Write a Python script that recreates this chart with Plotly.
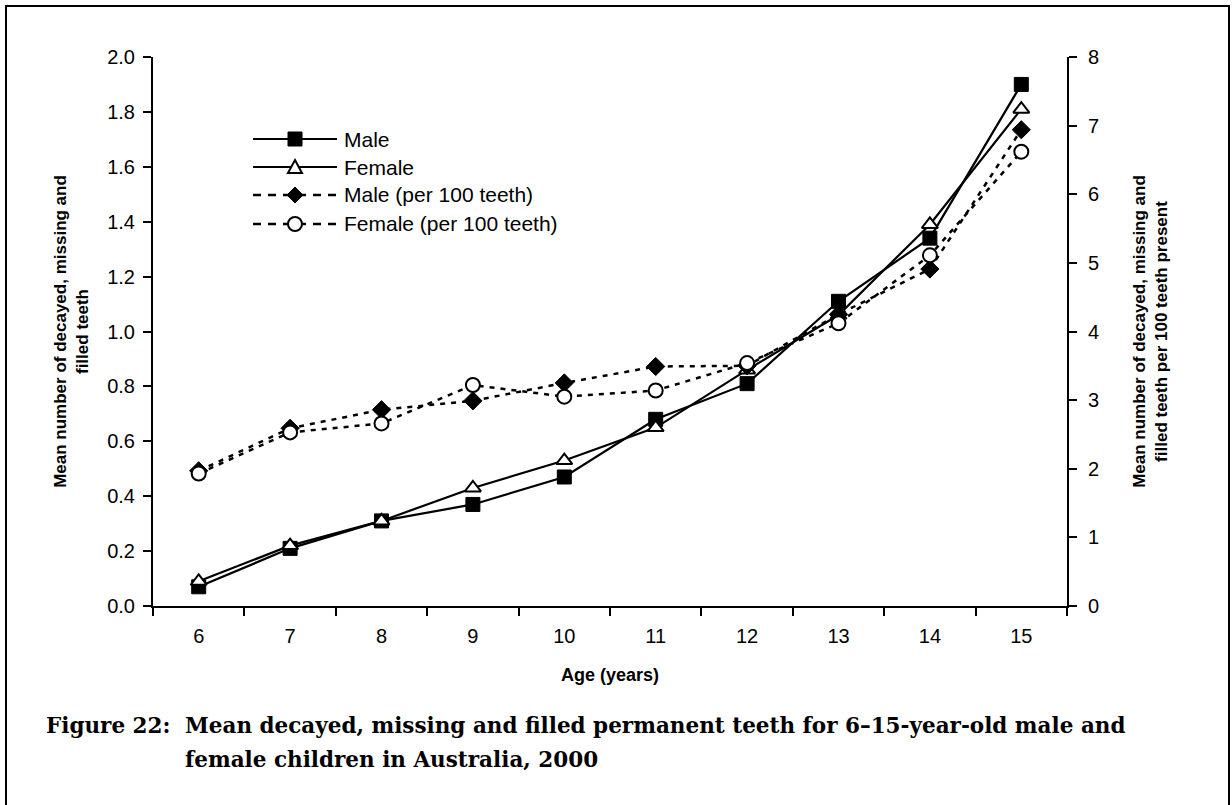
import plotly.graph_objects as go

ages = ["6", "7", "8", "9", "10", "11", "12", "13", "14", "15"]
male = [0.07, 0.21, 0.31, 0.37, 0.47, 0.68, 0.81, 1.11, 1.34, 1.90]
female = [0.09, 0.22, 0.31, 0.43, 0.53, 0.65, 0.86, 1.06, 1.39, 1.81]
male_per100 = [1.97, 2.59, 2.86, 2.99, 3.25, 3.49, 3.50, 4.25, 4.91, 6.94]
female_per100 = [1.93, 2.53, 2.66, 3.22, 3.05, 3.14, 3.54, 4.12, 5.11, 6.62]

series_names = ["Male", "Female", "Male (per 100 teeth)", "Female (per 100 teeth)"]

left_ticks = [0.0, 0.2, 0.4, 0.6, 0.8, 1.0, 1.2, 1.4, 1.6, 1.8, 2.0]
right_ticks = [0, 1, 2, 3, 4, 5, 6, 7, 8]

caption_label = "Figure 22:"
caption_line1 = "Mean decayed, missing and filled permanent teeth for 6–15-year-old male and"
caption_line2 = "female children in Australia, 2000"

FONT = "Liberation Sans, Arial, sans-serif"
W, H = 1232, 805
L, R, T, B = 153, 165, 57, 199
PW, PH = W - L - R, H - T - B


def px(x):
    return (x - L) / PW


def py(y):
    return (H - B - y) / PH


SOLID = dict(color="black", width=2.2)
DASHED = dict(color="black", width=2.5, dash="5px,6px")
styles = [
    dict(line=SOLID, symbol="square", fill="black"),
    dict(line=SOLID, symbol="triangle-up", fill="white"),
    dict(line=DASHED, symbol="diamond", fill="black"),
    dict(line=DASHED, symbol="circle", fill="white"),
]
values = [male, female, male_per100, female_per100]
axes = ["y", "y", "y2", "y2"]

fig = go.Figure()
for name, vals, ax, st in zip(series_names, values, axes, styles):
    fig.add_trace(go.Scatter(
        x=ages, y=vals, name=name, mode="lines+markers", yaxis=ax, showlegend=False,
        line=st["line"],
        marker=dict(symbol=st["symbol"], size=14, color=st["fill"],
                    line=dict(color="black", width=2 if st["fill"] == "white" else 1)),
    ))

TICKF = dict(size=20, family=FONT, color="black")
TITLEF = dict(size=17, family=FONT, color="black")

fig.update_layout(
    width=W, height=H,
    margin=dict(l=L, r=R, t=T, b=B),
    paper_bgcolor="white", plot_bgcolor="white",
    font=dict(family=FONT, size=20, color="black"),
    showlegend=False,
    xaxis=dict(
        type="category", tickson="boundaries", ticks="outside", ticklen=8, tickwidth=2,
        tickcolor="black", showline=True, linecolor="black", linewidth=2,
        showgrid=False, zeroline=False, range=[-0.5, 9.5],
        tickfont=TICKF, ticklabelstandoff=11,
        title=dict(text="<b>Age (years)</b>", font=dict(size=18, family=FONT), standoff=22),
    ),
    yaxis=dict(
        range=[0, 2.0], tickvals=left_ticks, tickformat=".1f",
        ticks="outside", ticklen=8, tickwidth=2, tickcolor="black",
        showline=True, linecolor="black", linewidth=2, showgrid=False, zeroline=False,
        tickfont=TICKF, ticklabelstandoff=4,
        title=dict(text="<b>Mean number of decayed, missing and<br>filled teeth</b>",
                   font=TITLEF, standoff=14),
    ),
    yaxis2=dict(
        overlaying="y", side="right", range=[0, 8], tickvals=right_ticks,
        ticks="outside", ticklen=8, tickwidth=2, tickcolor="black",
        showline=True, linecolor="black", linewidth=2, showgrid=False, zeroline=False,
        tickfont=TICKF, ticklabelstandoff=7,
        title=dict(text="<b>Mean number of decayed, missing and<br>filled teeth per 100 teeth present</b>",
                   font=TITLEF, standoff=35),
    ),
    yaxis3=dict(
        overlaying="y", side="right", range=[0, 8], tickvals=right_ticks,
        ticks="inside", ticklen=8, tickwidth=2, tickcolor="black",
        showticklabels=False, showline=False, showgrid=False, zeroline=False,
    ),
)

# Legend (drawn as decoration, Excel-style long keys)
LEG_X0, LEG_X1, LEG_MX, LEG_TX = 253, 337, 295, 342
LEG_ROWS = [139, 167, 195, 224]
LEG_DASH = dict(color="black", width=2.5, dash="8px,7px")
S = 7
for name, st, ry in zip(series_names, styles, LEG_ROWS):
    lline = st["line"] if st["line"] is SOLID else LEG_DASH
    fig.add_shape(type="line", xref="paper", yref="paper",
                  x0=px(LEG_X0), x1=px(LEG_X1), y0=py(ry), y1=py(ry), line=lline)
    lw = 2 if st["fill"] == "white" else 1
    mk = dict(xref="paper", yref="paper", fillcolor=st["fill"], line=dict(color="black", width=lw))
    if st["symbol"] == "square":
        fig.add_shape(type="rect", x0=px(LEG_MX - S), x1=px(LEG_MX + S), y0=py(ry + S), y1=py(ry - S), **mk)
    elif st["symbol"] == "circle":
        fig.add_shape(type="circle", x0=px(LEG_MX - S), x1=px(LEG_MX + S), y0=py(ry + S), y1=py(ry - S), **mk)
    else:
        if st["symbol"] == "diamond":
            pts = [(LEG_MX, ry - S - 1), (LEG_MX + S + 1, ry), (LEG_MX, ry + S + 1), (LEG_MX - S - 1, ry)]
        else:
            pts = [(LEG_MX, ry - S), (LEG_MX + S, ry + S - 1), (LEG_MX - S, ry + S - 1)]
        path = "M " + " L ".join(f"{px(a):.5f},{py(b):.5f}" for a, b in pts) + " Z"
        fig.add_shape(type="path", path=path, **mk)
    fig.add_annotation(xref="paper", yref="paper", x=px(LEG_TX), y=py(ry), xanchor="left",
                       yanchor="middle", text=name, showarrow=False,
                       font=dict(size=21, family=FONT, color="black"))

CAP_FONT = dict(family="DejaVu Serif, serif", size=21.5, color="black")
fig.add_annotation(xref="paper", yref="paper", x=px(172), y=py(725), xanchor="right", yanchor="middle",
                   text="<b>" + caption_label + "</b>", showarrow=False, font=CAP_FONT)
fig.add_annotation(xref="paper", yref="paper", x=px(183), y=py(725), xanchor="left", yanchor="middle",
                   text="<b>" + caption_line1 + "</b>", showarrow=False, font=CAP_FONT)
fig.add_annotation(xref="paper", yref="paper", x=px(183), y=py(759), xanchor="left", yanchor="middle",
                   text="<b>" + caption_line2 + "</b>", showarrow=False, font=CAP_FONT)

fig.add_shape(type="rect", xref="paper", yref="paper",
              x0=px(6), x1=px(1229), y0=py(815), y1=py(6),
              line=dict(color="black", width=2), fillcolor="rgba(0,0,0,0)", layer="below")

fig.write_html("out.html", config={"displayModeBar": False},
               post_script="document.body.style.margin='0';")
